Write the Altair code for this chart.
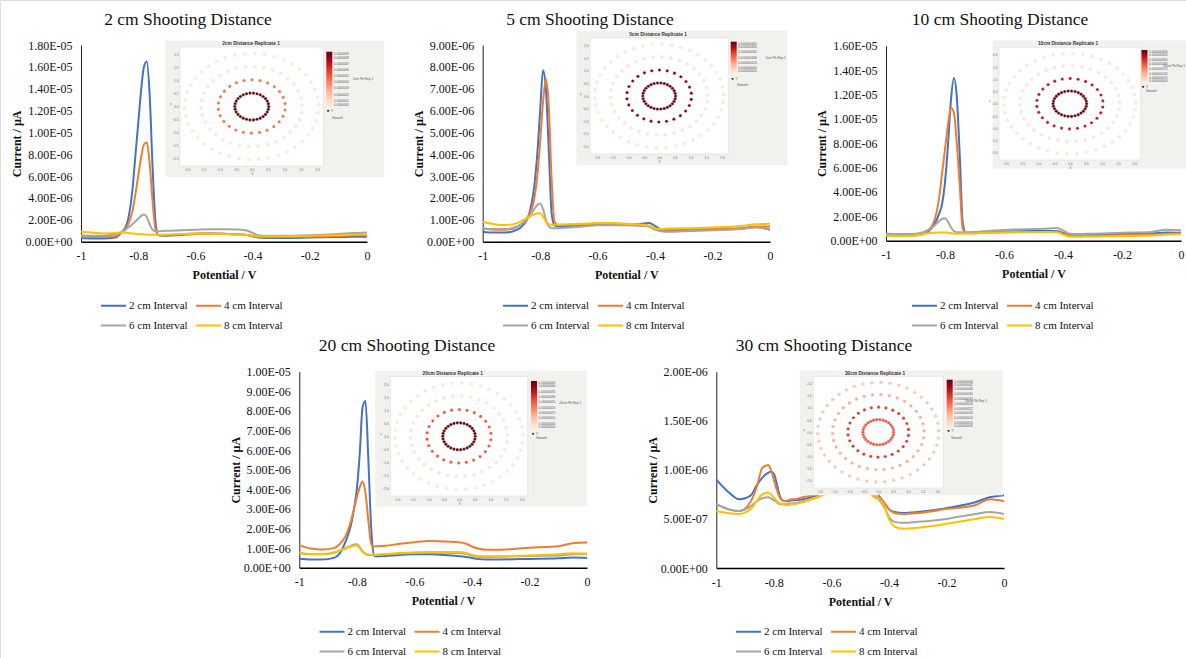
import math
import altair as alt
import pandas as pd

SERIF = "Liberation Serif"
SANS = "Liberation Sans"
W, H = 1186, 658

# ---------------- data ----------------
potential = [-1.0, -0.96, -0.92, -0.88, -0.86, -0.84, -0.82, -0.81, -0.8, -0.79, -0.78,
             -0.77, -0.76, -0.75, -0.74, -0.73, -0.7, -0.65, -0.6, -0.55, -0.5, -0.45,
             -0.42, -0.4, -0.38, -0.35, -0.3, -0.2, -0.1, -0.05, 0.0]

# currents in units of 1e-6
d2_i2 = [0.34, 0.30, 0.30, 0.38, 0.8, 1.6, 4.8, 7.8, 10.8, 13.8, 16.0, 16.5, 13.5, 7.0, 2.0, 0.6, 0.55, 0.62, 0.7, 0.74, 0.72, 0.68, 0.62, 0.5, 0.38, 0.35, 0.35, 0.38, 0.42, 0.45, 0.45]
d2_i4 = [0.45, 0.42, 0.42, 0.5, 0.8, 1.3, 2.8, 4.3, 6.0, 7.7, 8.9, 9.1, 7.2, 3.8, 1.2, 0.62, 0.6, 0.68, 0.75, 0.75, 0.72, 0.68, 0.62, 0.5, 0.42, 0.4, 0.42, 0.45, 0.52, 0.58, 0.6]
d2_i6 = [0.6, 0.55, 0.55, 0.7, 0.85, 1.2, 1.6, 1.85, 2.1, 2.35, 2.5, 2.25, 1.6, 1.1, 0.95, 0.95, 1.0, 1.05, 1.1, 1.15, 1.15, 1.12, 1.02, 0.8, 0.6, 0.55, 0.55, 0.6, 0.7, 0.8, 0.85]
d2_i8 = [0.9, 0.82, 0.76, 0.8, 0.85, 0.82, 0.76, 0.73, 0.7, 0.68, 0.66, 0.65, 0.64, 0.63, 0.63, 0.63, 0.65, 0.7, 0.72, 0.72, 0.7, 0.66, 0.62, 0.55, 0.5, 0.5, 0.5, 0.55, 0.6, 0.64, 0.65]

d5_i2 = [0.46, 0.42, 0.42, 0.55, 0.75, 1.2, 2.6, 4.0, 6.0, 7.85, 7.0, 4.2, 1.3, 0.75, 0.7, 0.7, 0.72, 0.75, 0.78, 0.78, 0.78, 0.82, 0.86, 0.72, 0.56, 0.5, 0.5, 0.55, 0.6, 0.68, 0.55]
d5_i4 = [0.6, 0.55, 0.55, 0.68, 0.85, 1.2, 2.0, 3.0, 4.6, 6.4, 7.45, 6.2, 2.8, 0.9, 0.78, 0.78, 0.78, 0.8, 0.82, 0.82, 0.8, 0.78, 0.72, 0.62, 0.55, 0.55, 0.55, 0.6, 0.62, 0.68, 0.7]
d5_i6 = [0.62, 0.58, 0.58, 0.7, 0.85, 1.1, 1.5, 1.68, 1.75, 1.5, 1.0, 0.7, 0.62, 0.62, 0.62, 0.62, 0.65, 0.7, 0.75, 0.75, 0.75, 0.72, 0.68, 0.55, 0.48, 0.45, 0.48, 0.52, 0.58, 0.65, 0.58]
d5_i8 = [0.9, 0.8, 0.76, 0.85, 0.98, 1.12, 1.25, 1.3, 1.3, 1.15, 0.92, 0.8, 0.78, 0.78, 0.78, 0.78, 0.8, 0.82, 0.85, 0.85, 0.82, 0.78, 0.72, 0.62, 0.58, 0.6, 0.62, 0.65, 0.72, 0.8, 0.82]

d10_i2 = [0.5, 0.45, 0.42, 0.5, 0.7, 1.2, 2.2, 3.0, 4.8, 7.8, 11.5, 13.35, 11.8, 7.0, 1.5, 0.68, 0.65, 0.7, 0.75, 0.78, 0.8, 0.8, 0.8, 0.65, 0.48, 0.45, 0.48, 0.55, 0.6, 0.68, 0.65]
d10_i4 = [0.45, 0.42, 0.42, 0.55, 0.8, 1.4, 3.5, 5.5, 7.5, 9.5, 10.9, 10.5, 8.0, 4.5, 1.0, 0.65, 0.62, 0.65, 0.7, 0.72, 0.72, 0.72, 0.72, 0.6, 0.42, 0.38, 0.4, 0.45, 0.5, 0.58, 0.6]
d10_i6 = [0.6, 0.55, 0.55, 0.65, 0.85, 1.15, 1.6, 1.8, 1.85, 1.55, 1.1, 0.8, 0.7, 0.7, 0.7, 0.7, 0.72, 0.8, 0.88, 0.92, 0.95, 1.0, 1.05, 0.85, 0.6, 0.55, 0.58, 0.65, 0.72, 0.9, 0.85]
d10_i8 = [0.42, 0.38, 0.38, 0.5, 0.6, 0.65, 0.68, 0.68, 0.68, 0.66, 0.63, 0.6, 0.58, 0.58, 0.58, 0.58, 0.6, 0.65, 0.68, 0.7, 0.7, 0.72, 0.7, 0.5, 0.35, 0.32, 0.35, 0.38, 0.42, 0.5, 0.55]

d20_i2 = [0.46, 0.42, 0.42, 0.5, 0.72, 1.3, 2.2, 3.0, 4.0, 5.8, 8.2, 8.5, 5.5, 2.0, 0.62, 0.58, 0.6, 0.65, 0.68, 0.68, 0.65, 0.6, 0.55, 0.5, 0.45, 0.42, 0.42, 0.45, 0.48, 0.52, 0.5]
d20_i4 = [1.14, 0.98, 0.93, 1.0, 1.2, 1.6, 2.4, 3.0, 3.6, 4.1, 4.4, 3.8, 2.4, 1.2, 1.08, 1.1, 1.12, 1.22, 1.3, 1.36, 1.34, 1.3, 1.22, 1.08, 0.98, 0.92, 0.92, 1.02, 1.1, 1.25, 1.28]
d20_i6 = [0.72, 0.68, 0.68, 0.76, 0.86, 0.98, 1.12, 1.18, 1.2, 1.05, 0.85, 0.72, 0.66, 0.65, 0.65, 0.65, 0.67, 0.72, 0.75, 0.76, 0.76, 0.75, 0.7, 0.62, 0.56, 0.55, 0.56, 0.6, 0.62, 0.68, 0.68]
d20_i8 = [0.78, 0.7, 0.7, 0.78, 0.88, 0.98, 1.08, 1.12, 1.15, 1.0, 0.8, 0.7, 0.66, 0.66, 0.66, 0.67, 0.7, 0.75, 0.78, 0.8, 0.8, 0.8, 0.75, 0.65, 0.6, 0.58, 0.58, 0.62, 0.68, 0.74, 0.72]

d30_i2 = [0.9, 0.78, 0.7, 0.74, 0.84, 0.92, 0.97, 0.98, 0.96, 0.86, 0.74, 0.69, 0.68, 0.68, 0.69, 0.69, 0.7, 0.74, 0.8, 0.85, 0.85, 0.78, 0.68, 0.6, 0.57, 0.56, 0.57, 0.61, 0.67, 0.72, 0.74]
d30_i4 = [0.65, 0.6, 0.58, 0.68, 0.82, 1.02, 1.05, 1.0, 0.9, 0.8, 0.72, 0.69, 0.68, 0.69, 0.7, 0.7, 0.72, 0.75, 0.8, 0.85, 0.85, 0.78, 0.68, 0.6, 0.56, 0.55, 0.56, 0.6, 0.64, 0.7, 0.68]
d30_i6 = [0.65, 0.6, 0.58, 0.63, 0.68, 0.71, 0.72, 0.71, 0.69, 0.67, 0.65, 0.65, 0.65, 0.65, 0.66, 0.66, 0.68, 0.72, 0.78, 0.82, 0.82, 0.74, 0.64, 0.52, 0.47, 0.46, 0.47, 0.5, 0.55, 0.57, 0.55]
d30_i8 = [0.58, 0.56, 0.55, 0.6, 0.68, 0.75, 0.77, 0.75, 0.72, 0.68, 0.66, 0.65, 0.64, 0.64, 0.65, 0.65, 0.67, 0.72, 0.78, 0.82, 0.82, 0.72, 0.66, 0.5, 0.42, 0.4, 0.41, 0.45, 0.5, 0.52, 0.5]

labels_std = ["2 cm Interval", "4 cm Interval", "6 cm Interval", "8 cm Interval"]
labels_5cm = ["2 cm interval", "4 cm Interval", "6 cm Interval", "8 cm Interval"]

x_ticks = [-1, -0.8, -0.6, -0.4, -0.2, 0]
y_ticks_2 = [0, 2e-06, 4e-06, 6e-06, 8e-06, 1e-05, 1.2e-05, 1.4e-05, 1.6e-05, 1.8e-05]
y_ticks_5 = [0, 1e-06, 2e-06, 3e-06, 4e-06, 5e-06, 6e-06, 7e-06, 8e-06, 9e-06]
y_ticks_10 = [0, 2e-06, 4e-06, 6e-06, 8e-06, 1e-05, 1.2e-05, 1.4e-05, 1.6e-05]
y_ticks_20 = [0, 1e-06, 2e-06, 3e-06, 4e-06, 5e-06, 6e-06, 7e-06, 8e-06, 9e-06, 1e-05]
y_ticks_30 = [0, 5e-07, 1e-06, 1.5e-06, 2e-06]

titles = ["2 cm Shooting Distance", "5 cm Shooting Distance", "10 cm Shooting Distance",
          "20 cm Shooting Distance", "30 cm Shooting Distance"]
inset_titles = ["2cm Distance Replicate 1", "5cm Distance Replicate 1", "10cm Distance Replicate 1",
                "20cm Distance Replicate 1", "30cm Distance Replicate 1"]
inset_legend_titles = ["2cm Pb Rep 1", "5cm Pb Rep 1", "10cm Pb Rep 1", "20cm Pb Rep 1", "30cm Pb Rep 1"]

# inset heat-map rings (sampling rings of the shooting pattern)
ring_radius = [0.52, 1.03, 1.55, 2.05]
ring_count = [30, 26, 34, 42]
ring_values = [
    [9.0e-07, 4.4e-07, 2e-08, 1e-08],
    [3.6e-07, 3.35e-07, 1e-08, 5e-09],
    [4.9e-07, 3.8e-07, 1.5e-08, 8e-09],
    [4.5e-07, 2.6e-07, 1.2e-08, 6e-09],
    [2.9e-08, 3.3e-08, 1.8e-08, 1.4e-08],
]
cbar_domains = [[0, 9e-07], [0, 3.6e-07], [0, 4.9e-07], [0, 4.5e-07], [6e-09, 4.6e-08]]
cbar_values = [
    [0, 1e-07, 2e-07, 3e-07, 4e-07, 5e-07, 6e-07, 7e-07, 8e-07, 9e-07],
    [0, 6e-08, 1.2e-07, 1.8e-07, 2.4e-07, 3e-07, 3.6e-07],
    [0, 7e-08, 1.4e-07, 2.1e-07, 2.8e-07, 3.5e-07, 4.2e-07, 4.9e-07],
    [0, 5e-08, 1e-07, 1.5e-07, 2e-07, 2.5e-07, 3e-07, 3.5e-07, 4e-07, 4.5e-07],
    [6e-09, 1e-08, 1.4e-08, 1.8e-08, 2.2e-08, 2.6e-08, 3e-08, 3.4e-08, 3.8e-08, 4.2e-08, 4.6e-08],
]
cbar_formats = [".7f", ".9f", ".9f", ".8f", ".9f"]
inset_ticks = [-2.0, -1.5, -1.0, -0.5, 0.0, 0.5, 1.0, 1.5, 2.0]

panel_series = [
    (labels_std, [d2_i2, d2_i4, d2_i6, d2_i8], y_ticks_2),
    (labels_5cm, [d5_i2, d5_i4, d5_i6, d5_i8], y_ticks_5),
    (labels_std, [d10_i2, d10_i4, d10_i6, d10_i8], y_ticks_10),
    (labels_std, [d20_i2, d20_i4, d20_i6, d20_i8], y_ticks_20),
    (labels_std, [d30_i2, d30_i4, d30_i6, d30_i8], y_ticks_30),
]

# ---------------- layout / style ----------------
series_colors = ["#4472C4", "#ED7D31", "#A5A5A5", "#FFC000"]
heat_colors = ["#ffffff", "#fcbba1", "#fb6a4a", "#cb181d", "#67000d"]
layout = [
    dict(px=(81, 367), py=(241.7, 45), legend=(100, 292), title=(188, 20)),
    dict(px=(482.7, 770), py=(241.7, 45), legend=(502, 292), title=(590, 20)),
    dict(px=(886, 1181), py=(240.7, 45.7), legend=(911, 292), title=(1000, 20)),
    dict(px=(299.3, 587), py=(567.7, 371.7), legend=(318.5, 618), title=(407, 346)),
    dict(px=(716.3, 1004), py=(568, 371.7), legend=(735, 618), title=(824, 346)),
]
inset_layout = [
    dict(box=(165.5, 384, 41, 176.7), white=(180, 323.5, 47, 166), cbar=(326.3, 51.7, 55),
         title=(251, 44.3), ltitle=(353, 79.3), dot=(328, 111), smooth=(332, 118.3)),
    dict(box=(576.7, 787, 31, 165), white=(590, 728.3, 38, 154), cbar=(730.7, 41.7, 31.5),
         title=(658, 34.5), ltitle=(765.7, 58.3), dot=(732.5, 79), smooth=(737, 84.5)),
    dict(box=(993, 1190, 40.7, 168.3), white=(999, 1140.7, 47.3, 160), cbar=(1141.5, 50, 33),
         title=(1068, 44), ltitle=(1163, 65.7), dot=(1143, 86.7), smooth=(1146, 91)),
    dict(box=(375.5, 586.7, 371, 506), white=(390.3, 527.7, 376.5, 496), cbar=(531, 381, 48),
         title=(452.7, 373.6), ltitle=(559.3, 402.7), dot=(533, 433.7), smooth=(536, 438)),
    dict(box=(800, 1002.7, 370.7, 495), white=(813.3, 943.3, 376.3, 488), cbar=(946.7, 379.7, 48),
         title=(875, 373.8), ltitle=(965, 401), dot=(948.5, 431), smooth=(951, 438)),
]

layers = []

# ---------------- line panels ----------------
for (labels, vals, yt), L in zip(panel_series, layout):
    rows = []
    for lab, ser in zip(labels, vals):
        for p, c in zip(potential, ser):
            rows.append({"potential": p, "c": c, "series": lab})
    df = pd.DataFrame(rows)
    x0, x1 = L["px"]
    yb, ytop = L["py"]
    ch = alt.Chart(df).transform_calculate(current="datum.c * 1e-6").mark_line(
        interpolate="monotone", strokeWidth=2
    ).encode(
        x=alt.X("potential:Q",
                scale=alt.Scale(domain=[-1, 0], range=[x0, x1], nice=False, zero=False),
                axis=alt.Axis(orient="bottom", offset=yb - H, values=x_ticks,
                              labelExpr="'' + datum.value", ticks=False, grid=False,
                              domainColor="#000", domainWidth=1.5, labelFont=SERIF,
                              labelFontSize=12, labelColor="#111", labelPadding=9,
                              labelFlush=False, labelOverlap=False,
                              title="Potential / V", titleFont=SERIF, titleFontSize=12,
                              titleFontWeight="bold", titleColor="#111", titlePadding=8)),
        y=alt.Y("current:Q",
                scale=alt.Scale(domain=[0, yt[-1]], range=[yb, ytop], nice=False, zero=True),
                axis=alt.Axis(orient="left", offset=-x0, values=yt,
                              labelExpr="replace(replace(format(datum.value, '.2e'), 'e-', 'E-0'), 'e+', 'E+0')",
                              ticks=False, grid=False, domainColor="#222", domainWidth=1,
                              labelFont=SERIF, labelFontSize=12, labelColor="#111",
                              labelPadding=9, labelFlush=False, labelOverlap=False,
                              title="Current / µA", titleFont=SERIF, titleFontSize=12,
                              titleFontWeight="bold", titleColor="#111", titlePadding=1)),
        color=alt.Color("series:N", sort=labels,
                        scale=alt.Scale(domain=labels, range=series_colors),
                        legend=alt.Legend(orient="none", legendX=L["legend"][0],
                                          legendY=L["legend"][1], columns=2,
                                          direction="horizontal", title=None,
                                          symbolType="stroke", symbolSize=625,
                                          symbolStrokeWidth=2, labelFont=SERIF,
                                          labelFontSize=11, labelColor="#111",
                                          labelOffset=2, columnPadding=4, rowPadding=1,
                                          labelLimit=0)),
    )
    layers.append(ch)

# ---------------- inset backgrounds ----------------
rect_rows = []
for I in inset_layout:
    bx0, bx1, by0, by1 = I["box"]
    rect_rows.append({"x": bx0, "x2": bx1, "y": by0, "y2": by1, "f": "#f1f1ee", "s": "#f1f1ee"})
    wx0, wx1, wy0, wy1 = I["white"]
    rect_rows.append({"x": wx0, "x2": wx1, "y": wy0, "y2": wy1, "f": "#ffffff", "s": "#dcdcdc"})
rect_df = pd.DataFrame(rect_rows)
layers.append(
    alt.Chart(rect_df).mark_rect(strokeWidth=0.6).encode(
        x=alt.X("x:Q", scale=None, axis=None), x2="x2:Q",
        y=alt.Y("y:Q", scale=None, axis=None), y2="y2:Q",
        fill=alt.Fill("f:N", scale=None), stroke=alt.Stroke("s:N", scale=None),
    )
)

# ---------------- inset heat-map dots ----------------
for k, I in enumerate(inset_layout):
    rows = []
    for j, (r, n, v) in enumerate(zip(ring_radius, ring_count, ring_values[k])):
        for m in range(n):
            a = 2 * math.pi * m / n + j * 0.11
            rows.append({"x": r * math.cos(a), "y": r * math.sin(a), "v": v})
    ddf = pd.DataFrame(rows)
    wx0, wx1, wy0, wy1 = I["white"]
    cx, cy, clen = I["cbar"]
    dots = alt.Chart(ddf).mark_circle(size=10, opacity=1, stroke="#e2e2e2",
                                      strokeWidth=0.3).encode(
        x=alt.X("x:Q", scale=alt.Scale(domain=[-2.2, 2.2], range=[wx0, wx1], nice=False, zero=False),
                axis=alt.Axis(orient="bottom", offset=wy1 - H, values=inset_ticks, format=".1f",
                              domain=False, ticks=False, grid=False, labelFont=SANS,
                              labelFontSize=3.2, labelColor="#666", labelPadding=1.5,
                              labelFlush=False, labelOverlap=False, title="X", titleFont=SANS,
                              titleFontSize=3.2, titleFontWeight="normal", titleColor="#666",
                              titlePadding=0.5, zindex=1)),
        y=alt.Y("y:Q", scale=alt.Scale(domain=[-2.3, 2.3], range=[wy1, wy0], nice=False, zero=False),
                axis=alt.Axis(orient="left", offset=-wx0, values=inset_ticks, format=".1f",
                              domain=False, ticks=False, grid=False, labelFont=SANS,
                              labelFontSize=3.2, labelColor="#666", labelPadding=2,
                              labelFlush=False, labelOverlap=False, title="Y", titleAngle=0,
                              titleFont=SANS, titleFontSize=3.2, titleFontWeight="normal",
                              titleColor="#666", titlePadding=1.5, zindex=1)),
        fill=alt.Fill("v:Q", scale=alt.Scale(domain=cbar_domains[k], range=heat_colors),
                      legend=alt.Legend(orient="none", legendX=cx, legendY=cy,
                                        direction="vertical", gradientLength=clen,
                                        gradientThickness=6, gradientStrokeWidth=0,
                                        title=None, values=cbar_values[k],
                                        format=cbar_formats[k], labelFont=SANS,
                                        labelFontSize=3.2, labelColor="#555", labelOffset=1.5,
                                        labelOverlap=False)),
    )
    layers.append(dots)

# ---------------- texts ----------------
title_df = pd.DataFrame([{"x": L["title"][0], "y": L["title"][1], "t": t}
                         for L, t in zip(layout, titles)])
layers.append(
    alt.Chart(title_df).mark_text(font=SERIF, fontSize=17.5, color="#111", align="center",
                                  baseline="middle").encode(
        x=alt.X("x:Q", scale=None, axis=None), y=alt.Y("y:Q", scale=None, axis=None), text="t:N")
)
ititle_df = pd.DataFrame([{"x": I["title"][0], "y": I["title"][1], "t": t}
                          for I, t in zip(inset_layout, inset_titles)])
layers.append(
    alt.Chart(ititle_df).mark_text(font=SANS, fontSize=4.8, fontWeight="bold", color="#333",
                                   align="center", baseline="middle").encode(
        x=alt.X("x:Q", scale=None, axis=None), y=alt.Y("y:Q", scale=None, axis=None), text="t:N")
)
small_rows = []
for I, t in zip(inset_layout, inset_legend_titles):
    small_rows.append({"x": I["ltitle"][0], "y": I["ltitle"][1], "t": t})
    small_rows.append({"x": I["dot"][0] + 3, "y": I["dot"][1], "t": "Y"})
    small_rows.append({"x": I["smooth"][0], "y": I["smooth"][1], "t": "Smooth"})
small_df = pd.DataFrame(small_rows)
layers.append(
    alt.Chart(small_df).mark_text(font=SANS, fontSize=3.2, color="#555", align="left",
                                  baseline="middle").encode(
        x=alt.X("x:Q", scale=None, axis=None), y=alt.Y("y:Q", scale=None, axis=None), text="t:N")
)
dot_df = pd.DataFrame([{"x": I["dot"][0], "y": I["dot"][1], "t": "●"} for I in inset_layout])
layers.append(
    alt.Chart(dot_df).mark_text(font=SANS, fontSize=4.5, color="#111", align="center",
                                baseline="middle").encode(
        x=alt.X("x:Q", scale=None, axis=None), y=alt.Y("y:Q", scale=None, axis=None), text="t:N")
)

chart = alt.layer(*layers).resolve_scale(
    x="independent", y="independent", color="independent", fill="independent"
).properties(
    width=W, height=H, autosize=alt.AutoSizeParams(type="none"), padding=0
).configure_view(stroke=None).configure(background="white")

chart.save("out.html", embed_options={"renderer": "svg", "actions": False})
